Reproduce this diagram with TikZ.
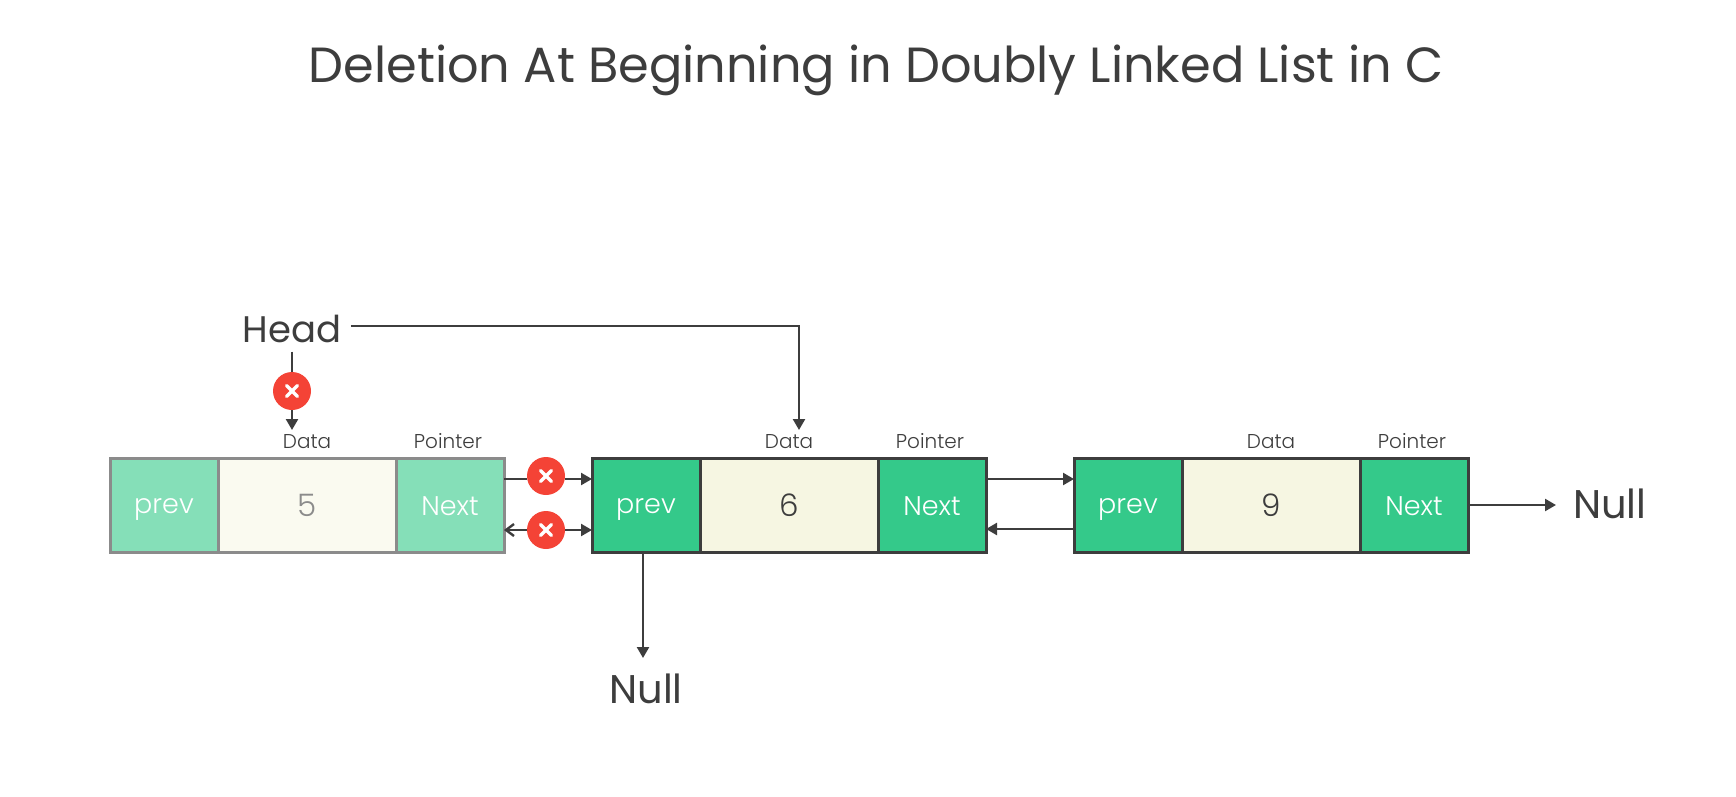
\documentclass[tikz,border=0pt]{standalone}
\usepackage{fontspec}
\setmainfont{Poppins}
\newfontfamily\lightfont{Poppins Light}
\usetikzlibrary{positioning,arrows.meta}
\definecolor{ink}{HTML}{3D3D3D}
\definecolor{ggreen}{HTML}{34C98A}
\definecolor{fgreen}{HTML}{85DFB8}
\definecolor{ccream}{HTML}{F6F6E2}
\definecolor{fcream}{HTML}{FAFAF0}
\definecolor{fline}{HTML}{8B8B8B}
\definecolor{rred}{HTML}{F44336}
\tikzset{
  cell/.style={draw,line width=3pt,inner sep=0pt,outer sep=0pt,minimum height=94pt,font=\lightfont\fontsize{27}{27}\selectfont},
  tag/.style={inner sep=0pt,text=ink,text depth=0pt,font=\lightfont\fontsize{20}{20}\selectfont},
  big/.style={text=ink,inner sep=17pt,text height=26pt,text depth=0pt,font=\fontsize{40}{40}\selectfont},
  cross/.style={circle,fill=rred,minimum size=38pt,inner sep=0pt,outer sep=0pt,
    path picture={
      \draw[white,line width=3.5pt,line cap=round] (path picture bounding box.center) +(-5.5pt,-5.5pt) -- +(5.5pt,5.5pt);
      \draw[white,line width=3.5pt,line cap=round] (path picture bounding box.center) +(-5.5pt,5.5pt) -- +(5.5pt,-5.5pt);
    }},
  link/.style={draw=ink,line width=2.4pt,-{Triangle[length=11pt,width=12pt]}},
  plain/.style={draw=ink,line width=2.4pt},
  open/.style={draw=ink,line width=2.4pt,-{Straight Barb[length=8pt,width=12pt]}},
}
\begin{document}
\begin{tikzpicture}[x=1pt,y=-1pt]
  \useasboundingbox (0,0) rectangle (1736,797);

  % Titulo
  \node[text=ink,inner sep=0pt,anchor=base,font=\fontsize{49.4}{49.4}\selectfont] (title) at (876,83) {Deletion At Beginning in Doubly Linked List in C};

  % Celdas
  \foreach \n/\xpos/\val/\side/\mid/\edge/\num in {a/110/5/fgreen/fcream/fline/fline, b/592/6/ggreen/ccream/ink/ink, c/1074/9/ggreen/ccream/ink/ink}
  {
    \node[cell,anchor=west,minimum width=108pt,fill=\side,draw=\edge,text=white,text height=16pt,text depth=0pt] (prev\n) at (\xpos,505) {prev};
    \node[cell,right=0pt of prev\n,minimum width=178pt,fill=\mid,draw=\edge,text=\num,text height=22pt,text depth=0pt,font=\lightfont\fontsize{31}{31}\selectfont] (data\n) {\val};
    \node[cell,right=0pt of data\n,minimum width=108pt,fill=\side,draw=\edge,text=white,text height=20pt,text depth=0pt] (next\n) {Next};
    \node[tag,above=9pt of data\n] (datatag\n) {Data};
    \node[tag,above=9pt of next\n,xshift=-2pt] (ptrtag\n) {Pointer};
  }

  % Cabeza y Null
  \node[big,inner sep=9.5pt,text height=32.6pt,font=\fontsize{37}{37}\selectfont] (head) at (292,325.7) {Head};
  \node[big,right=88pt of nextc] (nullright) {Null};
  \node[big,below=106pt of prevb,yshift=-2pt] (nulldown) {Null};
  \coordinate (headold) at (292,430);
  \coordinate (headnew) at (799,430);

  % Marcas
  \node[cross] (xhead) at (292,391) {};
  \node[cross] (xtop) at (546,476) {};
  \node[cross] (xbot) at (546,530) {};

  % Flechas
  \draw[plain] (head.south) -- (xhead.north);
  \draw[link] (xhead.south) -- (headold);
  \draw[link] (head.east) -| (headnew);

  \draw[plain] ([yshift=26pt]nexta.east) -- ([yshift=26pt]nexta.east -| xtop.west);
  \draw[link] ([yshift=26pt]preva.west -| xtop.east) -- ([yshift=26pt]prevb.west);
  \draw[open] (xbot.west) -- ([yshift=-25pt]nexta.east);
  \draw[link] (xbot.east) -- ([yshift=-25pt]prevb.west);

  \draw[link] ([yshift=26pt]nextb.east) -- ([yshift=26pt]prevc.west);
  \draw[link] ([yshift=-24pt]prevc.west) -- ([yshift=-24pt]nextb.east);
  \draw[link] (nextc.east) -- (nullright.west);
  \draw[link] ([xshift=-3pt,yshift=-2pt]prevb.south) -- ([xshift=-3pt,yshift=2pt]nulldown.north);
\end{tikzpicture}
\end{document}
